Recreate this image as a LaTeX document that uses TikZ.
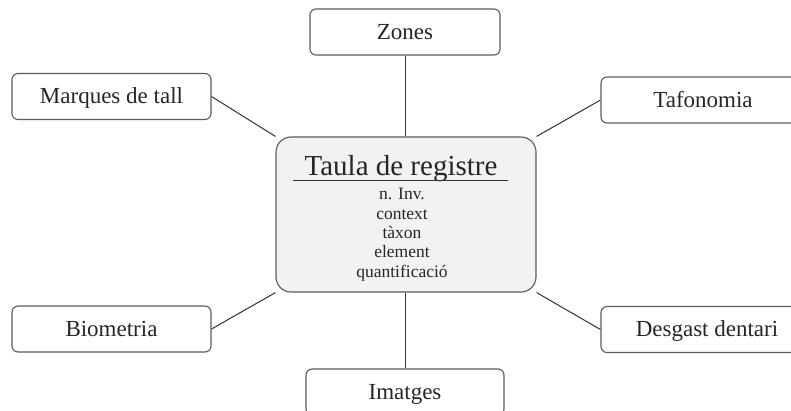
\documentclass[tikz,border=0pt]{standalone}
\usepackage{fontspec}
\setmainfont{Liberation Serif}
\usetikzlibrary{backgrounds}
\definecolor{boxline}{HTML}{5A5A5A}
\definecolor{linkline}{HTML}{333333}
\definecolor{boxfill}{HTML}{F1F2F1}

\begin{document}
\begin{tikzpicture}[x=1pt,y=-1pt,
    item/.style={draw=boxline, line width=1.1pt, rounded corners=6pt,
      minimum width=199pt, minimum height=46pt, inner sep=0pt,
      text height=15pt, text depth=1pt, text=black!85,
      font=\fontsize{23}{27}\selectfont},
    taula/.style={draw=boxline, line width=1.1pt, rounded corners=15pt,
      fill=boxfill, minimum width=260pt, minimum height=155pt},
    field/.style={inner sep=0pt, text=black!85, font=\fontsize{17.5}{19}\selectfont},
    link/.style={draw=linkline, line width=1pt}]
  \useasboundingbox (0,0) rectangle (791,410);

  % Central record table
  \node[taula] (taula) at (406,214.5) {};
  \node[inner sep=0pt, anchor=base, text=black!85,
    font=\fontsize{29}{32}\selectfont] (titol) at (401,175) {Taula de registre};
  \draw[linkline, line width=1pt] (293,180.5) -- (508,180.5);
  \foreach \t [count=\i] in {n. Inv., context, tàxon, element, quantificació}
    \node[field, anchor=base] (camp\i) at (402,180.5+19.3*\i) {\t};

  % Surrounding boxes
  \node[item, minimum width=190pt] (zones) at (405,32) {Zones};
  \node[item] (marques) at (111.5,96.5) {Marques de tall};
  \node[item, minimum width=204pt] (tafonomia) at (703,100) {Tafonomia};
  \node[item] (biometria) at (111.5,329) {Biometria};
  \node[item, minimum width=212pt] (desgast) at (707,329.5) {Desgast dentari};
  \node[item, minimum width=198pt] (imatges) at (405,392) {Imatges};

  % Links to the table
  \begin{scope}[on background layer]
    \draw[link] (zones.south) -- (zones.south |- taula.north);
    \draw[link] (imatges.north) -- (imatges.north |- taula.south);
    \draw[link] (marques.east) -- (taula.north west);
    \draw[link] (tafonomia.west) -- (taula.north east);
    \draw[link] (biometria.east) -- (taula.south west);
    \draw[link] (desgast.west) -- (taula.south east);
  \end{scope}
\end{tikzpicture}
\end{document}
